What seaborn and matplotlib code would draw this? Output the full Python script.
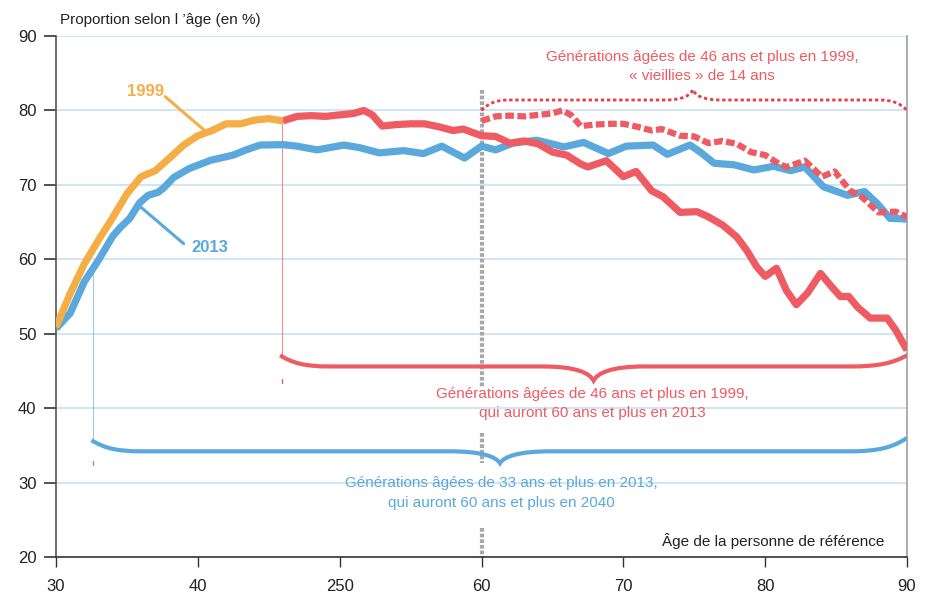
import numpy as np
import pandas as pd
import matplotlib
matplotlib.use("Agg")
import matplotlib.pyplot as plt
from matplotlib.path import Path
from matplotlib.patches import PathPatch
import seaborn as sns

# ---------------- data ----------------
age_1999_young = [30, 31, 32, 33, 34, 35, 36, 37, 38, 39, 40, 41, 42, 43, 44, 45, 46]
val_1999_young = [50.9, 55.4, 59.4, 62.6, 65.6, 68.8, 71.1, 71.9, 73.6, 75.35, 76.6, 77.3,
                  78.2, 78.2, 78.7, 78.9, 78.6]

age_1999_old = [46, 47, 48, 49, 50, 51, 51.7, 52.3, 53, 54, 55, 56, 57, 58, 58.7, 60, 61, 62,
                63, 64, 65, 66, 67, 67.5, 68.8, 70, 70.9, 72, 72.8, 74, 75.2, 76, 77, 78,
                78.7, 79.4, 80, 80.8, 81.5, 82.2, 83, 83.9, 84.6, 85.3, 85.9, 86.5, 87.4,
                88.6, 89.2, 90]
val_1999_old = [78.6, 79.2, 79.3, 79.2, 79.4, 79.6, 80.0, 79.4, 77.9, 78.1, 78.2, 78.2, 77.8,
                77.3, 77.5, 76.6, 76.5, 75.6, 75.9, 75.5, 74.4, 74.0, 72.8, 72.4, 73.25, 71.1,
                71.8, 69.2, 68.4, 66.3, 66.4, 65.7, 64.6, 63.0, 61.2, 59.0, 57.7, 58.8, 55.8,
                53.9, 55.5, 58.1, 56.5, 55.0, 55.0, 53.6, 52.1, 52.1, 50.5, 47.8]

age_2013 = [30, 31, 32, 33, 34, 34.5, 35.2, 35.9, 36.5, 37.2, 37.6, 38.3, 39.4, 40.9, 42.5,
            43.4, 44.4, 46, 47, 48.4, 50.3, 51.4, 52.8, 54.5, 55.9, 57.2, 58.8, 60, 61, 62.2,
            63.9, 65.8, 67.2, 68.95, 70.2, 72.1, 73.1, 74.7, 75.5, 76.4, 77.8, 79.2, 80.6,
            81.8, 82.8, 84.1, 85.8, 87.0, 87.9, 88.8, 90]
val_2013 = [50.7, 52.75, 57.0, 59.9, 63.1, 64.2, 65.5, 67.6, 68.6, 69.0, 69.6, 71.0, 72.2,
            73.3, 74.0, 74.7, 75.35, 75.4, 75.2, 74.7, 75.35, 75.0, 74.3, 74.6, 74.2, 75.2,
            73.6, 75.2, 74.7, 75.6, 76.0, 75.1, 75.7, 74.2, 75.2, 75.35, 74.1, 75.35, 74.3,
            72.9, 72.7, 72.0, 72.5, 71.9, 72.4, 69.75, 68.6, 69.1, 67.5, 65.5, 65.4]

shift_years = 14  # 1999 generations "aged" by 14 years
x_ticks = [30, 40, 50, 60, 70, 80, 90]
x_labels = ["30", "40", "250", "60", "70", "80", "90"]
y_ticks = [20, 30, 40, 50, 60, 70, 80, 90]

df_young = pd.DataFrame({"age": age_1999_young, "val": val_1999_young})
df_old = pd.DataFrame({"age": age_1999_old, "val": val_1999_old})
df_2013 = pd.DataFrame({"age": age_2013, "val": val_2013})
df_aged = df_old[df_old["age"] <= 90 - shift_years].copy()
df_aged["age"] = df_aged["age"] + shift_years

# ---------------- style ----------------
ORANGE = "#F5AD45"
RED = "#EE5B63"
BLUE = "#5AA8DC"
GRID = "#C2DFF3"
FS = 11

sns.set_theme(style="white")
plt.rcParams["font.family"] = ["Liberation Sans", "DejaVu Sans"]
plt.rcParams["font.size"] = FS

fig = plt.figure(figsize=(9.26, 5.97), dpi=100)
ax = fig.add_axes([56 / 926, 40 / 597, 851 / 926, 521 / 597])

ax.set_xlim(30, 90)
ax.set_ylim(20, 90)
ax.set_yticks(y_ticks)
ax.set_xticks(x_ticks)
ax.set_xticklabels(x_labels)
for y in y_ticks[1:]:
    ax.axhline(y, color=GRID, lw=1.1, zorder=0)

ax.spines["top"].set_visible(False)
ax.spines["left"].set_color("#555555")
ax.spines["bottom"].set_color("#333333")
ax.spines["right"].set_color("#A0A0A0")
for s in ["left", "bottom", "right"]:
    ax.spines[s].set_linewidth(1.2)
ax.tick_params(axis="y", which="both", left=True, length=9, width=1.2, color="#333333",
               pad=5, labelsize=12, labelcolor="#222222")
ax.tick_params(axis="x", which="both", bottom=True, length=7, width=1.0, color="#333333",
               pad=9, labelsize=12, labelcolor="#222222")

# gray dotted reference line at 60
for y0, y1 in [(82.7, 42.7), (36.6, 32.6), (23.9, 20)]:
    ax.plot([60, 60], [y0, y1], color="#A8A8A8", lw=3, ls=(0, (0.9, 0.45)), zorder=2,
            solid_capstyle="butt")

# thin generation markers
ax.plot([45.9, 45.9], [78.6, 47.1], color=RED, lw=0.8, alpha=0.7, zorder=2)
ax.plot([45.9, 45.9], [43.9, 43.4], color=RED, lw=1.0, zorder=2)
ax.plot([32.6, 32.6], [58.0, 35.7], color=BLUE, lw=0.8, alpha=0.6, zorder=2)
ax.plot([32.6, 32.6], [32.9, 32.4], color=BLUE, lw=1.0, zorder=2)

# ---------------- lines ----------------
kw = dict(estimator=None, sort=True, legend=False)
sns.lineplot(data=df_2013, x="age", y="val", ax=ax, color=BLUE, lw=5.2, zorder=3, **kw)
sns.lineplot(data=df_old, x="age", y="val", ax=ax, color=RED, lw=5.2, zorder=4, **kw)
sns.lineplot(data=df_young, x="age", y="val", ax=ax, color=ORANGE, lw=5.2, zorder=4, **kw)
sns.lineplot(data=df_aged, x="age", y="val", ax=ax, color=RED, lw=4.5, zorder=5,
             dashes=False, **kw)
ax.lines[-1].set_linestyle((0, (1.4, 0.55)))
for ln in ax.lines[-4:]:
    ln.set_solid_capstyle("butt")
ax.set_xlabel("")
ax.set_ylabel("")


# ---------------- braces ----------------
def brace(x0, x1, xm, y0, y1, yflat, ytip, e0, e1, c, **pkw):
    verts = [(x0, y0),
             (x0 + 0.25 * e0, yflat + 0.3 * (y0 - yflat)), (x0 + 0.5 * e0, yflat), (x0 + e0, yflat),
             (xm - c, yflat),
             (xm - 0.35 * c, yflat), (xm - 0.08 * c, yflat + 0.45 * (ytip - yflat)), (xm, ytip),
             (xm + 0.08 * c, yflat + 0.45 * (ytip - yflat)), (xm + 0.35 * c, yflat), (xm + c, yflat),
             (x1 - e1, yflat),
             (x1 - 0.5 * e1, yflat), (x1 - 0.25 * e1, yflat + 0.3 * (y1 - yflat)), (x1, y1)]
    codes = [Path.MOVETO] + [Path.CURVE4] * 3 + [Path.LINETO] + [Path.CURVE4] * 6 + \
            [Path.LINETO] + [Path.CURVE4] * 3
    ax.add_patch(PathPatch(Path(verts, codes), fill=False, **pkw))


brace(45.8, 90, 67.9, 47.1, 47.1, 45.6, 43.7, 3.5, 4.0, 3.6,
      edgecolor=RED, lw=3.0, zorder=3, capstyle="butt")
brace(32.5, 90, 61.3, 35.7, 36.0, 34.2, 32.6, 3.5, 4.0, 3.6,
      edgecolor=BLUE, lw=3.0, zorder=3, capstyle="butt")
brace(60, 90, 74.9, 80.0, 80.0, 81.4, 82.8, 2.0, 2.0, 2.0,
      edgecolor="#EC3B44", lw=2.0, ls=(0, (1.2, 1.0)), zorder=3)

# ---------------- texts ----------------
fig.text(60 / 926, 1 - 20 / 597, "Proportion selon l ’âge (en %)", ha="left", va="center",
         fontsize=FS, color="#222222")
ax.text(88.4, 22.15, "Âge de la personne de référence", ha="right", va="center",
        fontsize=FS, color="#222222")
ax.text(75.56, 85.9, "Générations âgées de 46 ans et plus en 1999,\n« vieillies » de 14 ans",
        ha="center", va="center", fontsize=FS, color=RED, linespacing=1.5)
ax.text(67.8, 40.6, "Générations âgées de 46 ans et plus en 1999,\nqui auront 60 ans et plus en 2013",
        ha="center", va="center", fontsize=FS, color=RED, linespacing=1.5, zorder=6)
ax.text(61.4, 28.6, "Générations âgées de 33 ans et plus en 2013,\nqui auront 60 ans et plus en 2040",
        ha="center", va="center", fontsize=FS, color=BLUE, linespacing=1.5, zorder=6)

ax.text(36.3, 82.55, "1999", ha="center", va="center", fontsize=12, fontweight="bold",
        color=ORANGE)
ax.plot([37.7, 40.6], [81.85, 77.1], color=ORANGE, lw=2.2, zorder=3)
ax.text(40.84, 61.6, "2013", ha="center", va="center", fontsize=12, fontweight="bold",
        color=BLUE)
ax.plot([35.8, 39.0], [67.3, 62.1], color=BLUE, lw=2.2, zorder=2)

fig.savefig("out.png", dpi=100)
